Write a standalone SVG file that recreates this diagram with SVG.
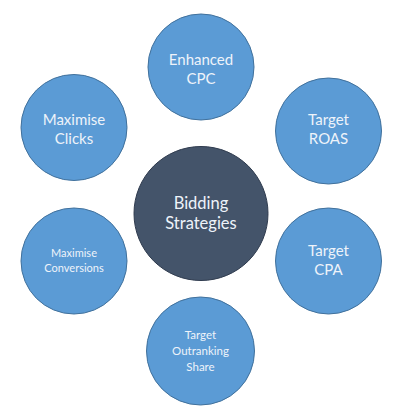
<svg xmlns="http://www.w3.org/2000/svg" width="400" height="419" viewBox="0 0 400 419">
<style>
.sat{fill:#5B9BD5;stroke:#41719C;stroke-width:1}
.hub{fill:#44546A;stroke:#2F3B4E;stroke-width:1}
text{font-family:Lato,"Open Sans","Liberation Sans",sans-serif;fill:#EEF3FA;text-anchor:middle}
.l{font-size:15px}
.s{font-size:11px}
.m{font-size:11.5px}
.h{font-size:16.5px}
</style>
<rect width="400" height="419" fill="#FFFFFF"/>
<g id="connectors"></g>
<g id="hub">
<circle class="hub" cx="201" cy="213.5" r="67"/>
<text class="h" x="201" y="209">Bidding</text>
<text class="h" x="201" y="229">Strategies</text>
</g>
<g id="enhanced-cpc">
<circle class="sat" cx="201" cy="67" r="53"/>
<text class="l" x="201" y="65">Enhanced</text>
<text class="l" x="201" y="84">CPC</text>
</g>
<g id="target-roas">
<circle class="sat" cx="328.5" cy="131" r="53"/>
<text class="l" x="328.5" y="125">Target</text>
<text class="l" x="328.5" y="144">ROAS</text>
</g>
<g id="target-cpa">
<circle class="sat" cx="328.5" cy="261" r="53"/>
<text class="l" x="328.5" y="256">Target</text>
<text class="l" x="328.5" y="275">CPA</text>
</g>
<g id="target-outranking-share">
<circle class="sat" cx="200.5" cy="351" r="54"/>
<text class="m" x="200.5" y="339">Target</text>
<text class="m" x="200.5" y="355">Outranking</text>
<text class="m" x="200.5" y="371">Share</text>
</g>
<g id="maximise-conversions">
<circle class="sat" cx="74" cy="261" r="53"/>
<text class="s" x="74" y="257">Maximise</text>
<text class="s" x="74" y="272">Conversions</text>
</g>
<g id="maximise-clicks">
<circle class="sat" cx="74" cy="127.5" r="53"/>
<text class="l" x="74" y="125">Maximise</text>
<text class="l" x="74" y="144">Clicks</text>
</g>
</svg>
